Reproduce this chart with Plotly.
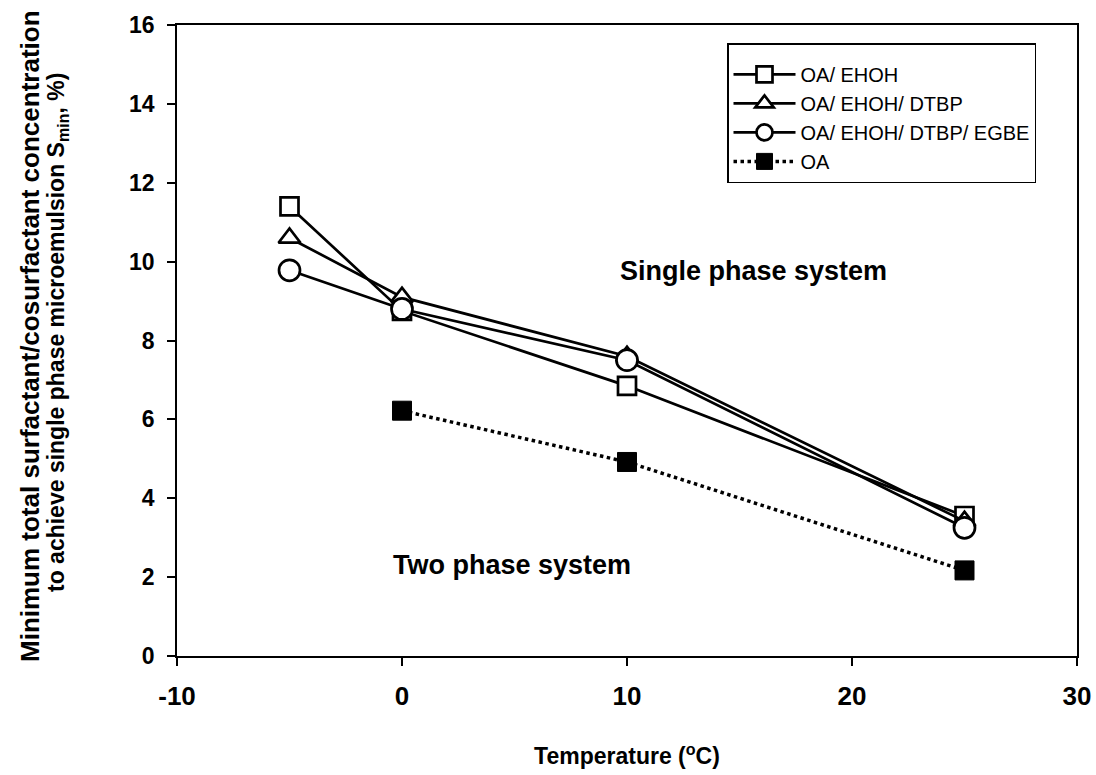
import plotly.graph_objects as go

temps = [-5, 0, 10, 25]
oa_temps = [0, 10, 25]
oa_ehoh = [11.4, 8.75, 6.85, 3.55]
oa_ehoh_dtbp = [10.6, 9.1, 7.6, 3.42]
oa_ehoh_dtbp_egbe = [9.78, 8.8, 7.5, 3.25]
oa = [6.22, 4.92, 2.17]

x_ticks = [-10, 0, 10, 20, 30]
x_tick_text = ["-10", "0", "10", "20", "30"]
y_ticks = [0, 2, 4, 6, 8, 10, 12, 14, 16]

FONT = "Liberation Sans, Arial, sans-serif"

fig = go.Figure()
fig.add_trace(go.Scatter(x=temps, y=oa_ehoh, name="OA/ EHOH", mode="lines+markers",
                         line=dict(color="black", width=2.7),
                         marker=dict(symbol="square", size=18, color="white",
                                     line=dict(color="black", width=2.7))))
fig.add_trace(go.Scatter(x=temps, y=oa_ehoh_dtbp, name="OA/ EHOH/ DTBP", mode="lines+markers",
                         line=dict(color="black", width=2.7),
                         marker=dict(symbol="triangle-up", size=19, color="white",
                                     line=dict(color="black", width=2.7))))
fig.add_trace(go.Scatter(x=temps, y=oa_ehoh_dtbp_egbe, name="OA/ EHOH/ DTBP/ EGBE", mode="lines+markers",
                         line=dict(color="black", width=2.7),
                         marker=dict(symbol="circle", size=21, color="white",
                                     line=dict(color="black", width=2.7))))
fig.add_trace(go.Scatter(x=oa_temps, y=oa, name="OA", mode="lines+markers",
                         line=dict(color="black", width=3.5, dash="dot"),
                         marker=dict(symbol="square", size=19, color="black",
                                     line=dict(color="black", width=1))))

fig.add_annotation(x=15.6, y=9.75, text="<b>Single phase system</b>", showarrow=False,
                   font=dict(family=FONT, size=27, color="black"))
fig.add_annotation(x=4.9, y=2.3, text="<b>Two phase system</b>", showarrow=False,
                   font=dict(family=FONT, size=27, color="black"))

# y-axis title as two rotated lines
fig.add_annotation(xref="paper", yref="paper", x=(30 - 177) / 900, y=(656 - 336) / 631,
                   text="<b>Minimum total surfactant/cosurfactant concentration</b>",
                   textangle=-90, showarrow=False, xanchor="center", yanchor="middle",
                   font=dict(family=FONT, size=26, color="black"))
fig.add_annotation(xref="paper", yref="paper", x=(57 - 177) / 900, y=(656 - 333) / 631,
                   text="<b>to achieve single phase microemulsion S<sub>min</sub>, %)</b>",
                   textangle=-90, showarrow=False, xanchor="center", yanchor="middle",
                   font=dict(family=FONT, size=23, color="black"))

fig.update_layout(
    width=1096, height=775,
    margin=dict(l=177, r=19, t=25, b=119),
    plot_bgcolor="white", paper_bgcolor="white",
    font=dict(family=FONT, color="black"),
    showlegend=True,
    legend=dict(x=(727 - 177) / 900, y=(656 - 43) / 631, xanchor="left", yanchor="top",
                bordercolor="black", borderwidth=1.5, bgcolor="white",
                font=dict(family=FONT, size=20, color="black"),
                title=dict(text=" ", font=dict(size=8)),
                tracegroupgap=0, itemwidth=62),
    xaxis=dict(range=[-10, 30], tickvals=x_ticks, ticktext=["<b>%s</b>" % t for t in x_tick_text],
               automargin=False,
               showgrid=False, zeroline=False, showline=True, linecolor="black", linewidth=1.8,
               mirror=True, ticks="outside", ticklen=8, tickwidth=1.5, tickcolor="black",
               ticklabelstandoff=8,
               tickfont=dict(family=FONT, size=26, color="black"),
               title=dict(text="<b>Temperature (<sup>o</sup>C)</b>", standoff=38,
                          font=dict(family=FONT, size=23, color="black"))),
    yaxis=dict(range=[0, 16], tickvals=y_ticks, ticktext=["<b>%d</b>" % v for v in y_ticks],
               automargin=False,
               showgrid=False, zeroline=False, showline=True, linecolor="black", linewidth=1.8,
               mirror=True, ticks="outside", ticklen=8, tickwidth=1.5, tickcolor="black",
               ticklabelstandoff=8,
               tickfont=dict(family=FONT, size=23, color="black")),
)

fig.write_html("out.html")
